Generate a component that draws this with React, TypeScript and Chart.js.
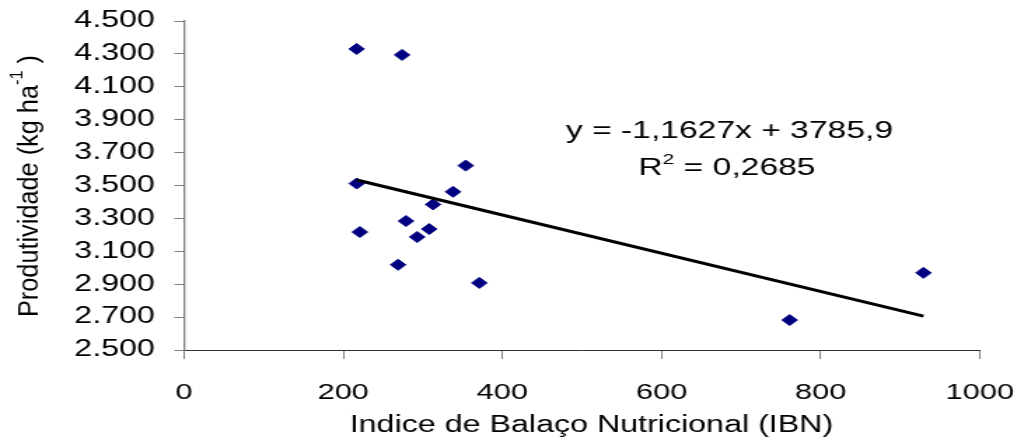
import { useEffect, useRef } from 'react';
import { Chart, registerables } from 'chart.js';

Chart.register(...registerables);

// ---- data ----
const ibn = [217, 274, 217, 354, 338, 313, 221, 279, 293, 308, 269, 371, 761, 929];
const produtividade = [4330, 4294, 3512, 3621, 3462, 3385, 3217, 3284, 3187, 3235, 3018, 2908, 2682, 2969];
const xTickValues = [0, 200, 400, 600, 800, 1000];
const yTickValues = [2500, 2700, 2900, 3100, 3300, 3500, 3700, 3900, 4100, 4300, 4500];
const trendSlope = -1.1627;
const trendIntercept = 3785.9;
const equationText = 'y = -1,1627x + 3785,9';
const r2Label = 'R';
const r2Sup = '2';
const r2Rest = ' = 0,2685';
const xTitle = 'Indice de Balaço Nutricional (IBN)';
const yTitleMain = 'Produtividade (kg ha';
const yTitleSup = '-1';
const yTitleEnd = ' )';

// ---- layout (logical canvas px; canvas is stretched horizontally by CSS) ----
const SCREEN_W = 1031;
const SCREEN_H = 443;
const LOGICAL_W = 736;
const K = SCREEN_W / LOGICAL_W;
const FONT = "'Liberation Sans', Arial, Helvetica, sans-serif";

const fmtThousands = (v: number) => {
  const s = String(Math.round(v));
  return s.length > 3 ? s.slice(0, -3) + '.' + s.slice(-3) : s;
};

const textPlugin = {
  id: 'chartTexts',
  afterDraw(chart: any) {
    const ctx = chart.ctx as CanvasRenderingContext2D;
    ctx.save();
    ctx.fillStyle = '#000';
    ctx.textBaseline = 'alphabetic';

    // regression equation
    ctx.font = `24px ${FONT}`;
    ctx.textAlign = 'center';
    ctx.fillText(equationText, 729.5 / K, 138);

    // R^2 line
    ctx.textAlign = 'left';
    ctx.font = `24px ${FONT}`;
    const wR = ctx.measureText(r2Label).width;
    const wRest = ctx.measureText(r2Rest).width;
    ctx.font = `15px ${FONT}`;
    const wS = ctx.measureText(r2Sup).width;
    let px = 727 / K - (wR + wS + wRest) / 2;
    ctx.font = `24px ${FONT}`;
    ctx.fillText(r2Label, px, 175);
    px += wR;
    ctx.font = `15px ${FONT}`;
    ctx.fillText(r2Sup, px, 164);
    px += wS;
    ctx.font = `24px ${FONT}`;
    ctx.fillText(r2Rest, px, 175);

    // x axis title
    ctx.textAlign = 'center';
    ctx.font = `23px ${FONT}`;
    ctx.fillText(xTitle, 591.5 / K, 432);

    // y axis title (rotated)
    ctx.save();
    ctx.translate(38 / K, 186);
    ctx.rotate(-Math.PI / 2);
    ctx.textAlign = 'left';
    ctx.font = `20px ${FONT}`;
    const wMain = ctx.measureText(yTitleMain).width;
    const wEnd = ctx.measureText(yTitleEnd).width;
    ctx.font = `13px ${FONT}`;
    const wSup = ctx.measureText(yTitleSup).width;
    const natural = wMain + wSup + wEnd;
    ctx.scale(262 / natural, 1);
    let tx = -natural / 2;
    ctx.font = `20px ${FONT}`;
    ctx.fillText(yTitleMain, tx, 0);
    tx += wMain;
    ctx.font = `13px ${FONT}`;
    ctx.fillText(yTitleSup, tx, -11);
    tx += wSup;
    ctx.font = `20px ${FONT}`;
    ctx.fillText(yTitleEnd, tx, 0);
    ctx.restore();

    ctx.restore();
  },
};

export default function App() {
  const ref = useRef<HTMLCanvasElement | null>(null);

  useEffect(() => {
    if (!ref.current) return;
    const xMin = Math.min(...ibn);
    const xMax = Math.max(...ibn);
    const trend = [
      { x: xMin, y: trendIntercept + trendSlope * xMin },
      { x: xMax, y: trendIntercept + trendSlope * xMax },
    ];
    const points = ibn.map((x, i) => ({ x, y: produtividade[i] }));

    const chart = new Chart(ref.current, {
      type: 'scatter',
      data: {
        datasets: [
          {
            label: 'Tendência',
            data: trend,
            showLine: true,
            borderColor: '#000000',
            borderWidth: 3,
            pointRadius: 0,
            fill: false,
          },
          {
            label: 'Produtividade',
            data: points,
            pointStyle: 'rectRot',
            pointRadius: 5.5,
            backgroundColor: '#000080',
            borderColor: '#000080',
            borderWidth: 1,
            showLine: false,
          },
        ],
      },
      plugins: [textPlugin],
      options: {
        animation: false,
        responsive: false,
        devicePixelRatio: 1,
        layout: { padding: { left: 0, top: 21, right: LOGICAL_W - 980 / K, bottom: 0 } },
        plugins: { legend: { display: false }, tooltip: { enabled: false } },
        scales: {
          x: {
            type: 'linear',
            min: xTickValues[0],
            max: xTickValues[xTickValues.length - 1],
            afterBuildTicks: (s: any) => {
              s.ticks = xTickValues.map((v) => ({ value: v }));
            },
            ticks: {
              color: '#000',
              font: { family: FONT, size: 22 },
              padding: 21,
              maxRotation: 0,
              callback: (v: any) => String(v),
            },
            grid: { drawOnChartArea: false, drawTicks: true, tickLength: 9, color: '#808080', lineWidth: 1 },
            border: { display: true, color: '#303030', width: 1 },
            afterFit: (s: any) => {
              s.height = SCREEN_H - 350;
              s.paddingLeft = 0;
              s.paddingRight = 0;
            },
          },
          y: {
            type: 'linear',
            min: yTickValues[0],
            max: yTickValues[yTickValues.length - 1],
            afterBuildTicks: (s: any) => {
              s.ticks = yTickValues.map((v) => ({ value: v }));
            },
            ticks: {
              color: '#000',
              font: { family: FONT, size: 23 },
              padding: 13.7,
              callback: (v: any) => fmtThousands(Number(v)),
            },
            grid: { drawOnChartArea: false, drawTicks: true, tickLength: 7, color: '#808080', lineWidth: 1 },
            border: { display: true, color: '#808080', width: 1.3 },
            afterFit: (s: any) => {
              s.width = 184 / K;
              s.paddingTop = 0;
              s.paddingBottom = 0;
            },
          },
        },
      },
    });
    return () => chart.destroy();
  }, []);

  return (
    <canvas
      ref={ref}
      width={LOGICAL_W}
      height={SCREEN_H}
      style={{
        position: 'absolute',
        left: 0,
        top: 0,
        width: `${SCREEN_W}px`,
        height: `${SCREEN_H}px`,
        display: 'block',
        background: '#fff',
      }}
    />
  );
}
